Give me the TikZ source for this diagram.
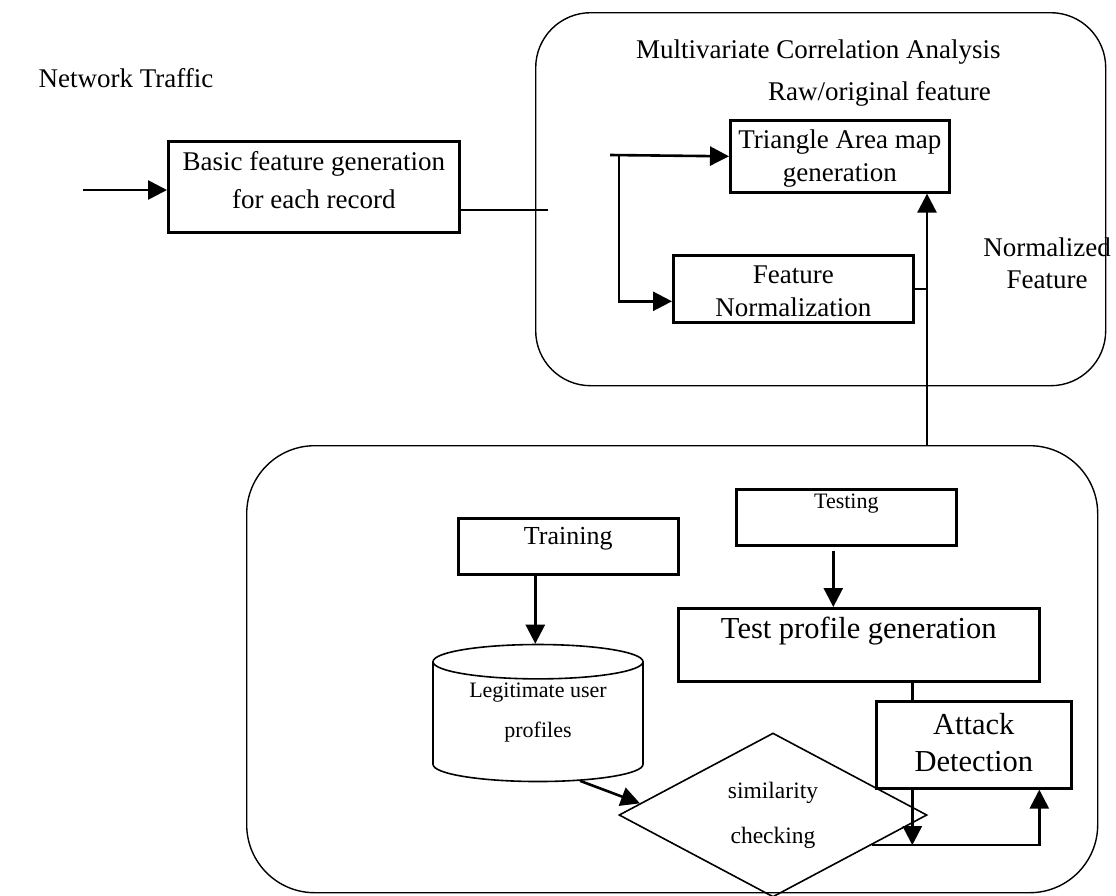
\documentclass[tikz,border=0pt]{standalone}
\usepackage{fontspec}
\setmainfont{Liberation Serif}
\usepackage{tikz}
\usetikzlibrary{calc, arrows.meta, shapes.geometric}
\newcommand{\fsz}[2]{\fontsize{#1}{#2}\selectfont}

\begin{document}
\begin{tikzpicture}[x=1pt, y=-1pt,
  box/.style={draw, line width=2.6pt, inner sep=0pt, anchor=north west, align=center},
  frame/.style={draw, line width=1.4pt, inner sep=0pt, anchor=north west},
  lbl/.style={inner sep=0pt, align=center},
  arr/.style={line width=2.6pt, -{Triangle[length=19pt, width=19pt]}},
  conn/.style={line width=2.6pt},
  thinline/.style={line width=1.4pt}]
  \useasboundingbox (0,0) rectangle (1116,895);
  % the two rounded containers
  \node[frame, rounded corners=55pt, minimum width=570pt, minimum height=373pt] (mca) at (535,12) {};
  \node[frame, rounded corners=68pt, minimum width=851pt, minimum height=447pt] (det) at (246,445) {};
  % free labels
  \node[lbl, font=\fsz{27}{33}, anchor=base] (net) at (126,87) {Network Traffic};
  \node[lbl, font=\fsz{27}{33}, anchor=base west] (mcat) at (636,58) {Multivariate Correlation Analysis};
  \node[lbl, font=\fsz{27}{33}, anchor=base west] (raw) at (768,100) {Raw/original feature};
  \node[lbl, font=\fsz{27}{32}, anchor=base] (nft) at (1047,288) {Normalized\\Feature};
  % boxes (text height counts down to the last line)
  \node[box, font=\fsz{27}{38}, minimum width=291pt, text height=67pt, text depth=24pt] (basic) at (167,140) {Basic feature generation\\for each record};
  \node[box, font=\fsz{27}{33}, minimum width=219pt, text height=61pt, text depth=11pt] (tri) at (729,119) {Triangle Area map\\generation};
  \node[box, font=\fsz{27}{33}, minimum width=240pt, text height=61pt, text depth=6pt] (fn) at (672,254) {Feature\\Normalization};
  \node[box, font=\fsz{26}{30}, minimum width=220pt, text height=26pt, text depth=30pt] (train) at (457,517) {Training};
  \node[box, font=\fsz{22}{26}, minimum width=220pt, text height=19pt, text depth=37pt] (test) at (735,488) {Testing};
  \node[box, font=\fsz{30.5}{36}, minimum width=361pt, text height=30pt, text depth=43pt] (tpg) at (677,607) {Test profile generation};
  \node[box, font=\fsz{30.5}{37}, minimum width=195pt, text height=70pt, text depth=17pt] (atk) at (875,700) {Attack\\Detection};
  \node[draw, cylinder, shape border rotate=90, aspect=0.25, line width=1.6pt, minimum width=210pt, minimum height=137pt,
        inner sep=0pt, align=center, text height=34pt, text depth=4pt, font=\fsz{22}{40}] (prof) at (538,722) {Legitimate user\\profiles};
  \node[draw, diamond, aspect=1.88, line width=1.6pt, minimum width=308pt, minimum height=164pt,
        inner sep=0pt, align=center, font=\fsz{23.5}{45}] (sim) at (773,815) {similarity\\checking};
  % top part
  \coordinate (netin) at (83,190);
  \coordinate (mcain) at (548,210);
  \coordinate (split) at (610,155);
  \coordinate (jn) at (927,287.5);
  \draw[arr] (netin) -- (netin -| basic.west);
  \draw[thinline] (mcain -| basic.east) -- (mcain);
  \draw[arr] (split) -- (tri.west);
  \draw[arr] ([xshift=9pt]split) |- ([yshift=-12.5pt]fn.west);
  \draw[arr] (fn.east) -| (jn |- tri.south);
  \draw[thinline] (jn) -- (jn |- det.north);
  % bottom part
  \draw[arr] ([xshift=-33pt]train.south) -- ([xshift=-33pt]train.south |- prof.top);
  \draw[arr] ([xshift=42pt,yshift=1.5pt]prof.bottom) -- (sim.175);
  \draw[arr] ([xshift=-13pt,yshift=-4pt]test.south) -- ([xshift=-25.5pt]tpg.north);
  \draw[conn] ([xshift=53.5pt]tpg.south) -- ([xshift=-61.5pt]atk.north);
  \draw[arr] ([xshift=-61.5pt]atk.south) -- ([xshift=-61.5pt]atk.south |- sim.-17);
  \draw[arr] (sim.-17) -| ([xshift=65.5pt]atk.south);
\end{tikzpicture}
\end{document}
